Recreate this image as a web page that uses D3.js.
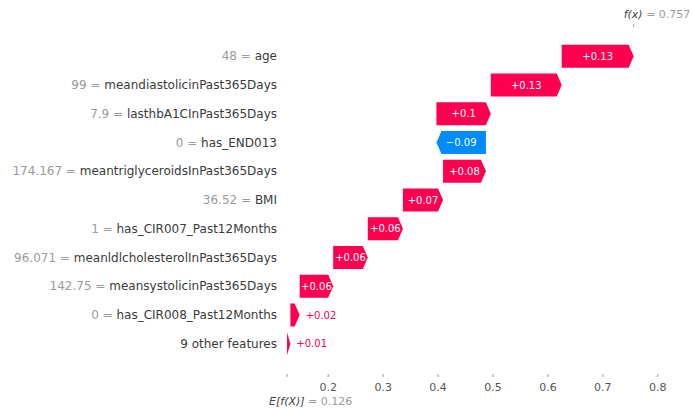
<!DOCTYPE html>
<html>
<head>
<meta charset="utf-8">
<script src="https://cdn.jsdelivr.net/npm/d3@7/dist/d3.min.js"></script>
<style>
  html, body { margin: 0; padding: 0; background: #fff; }
  svg { display: block; font-family: "DejaVu Sans", sans-serif; }
</style>
</head>
<body>
<svg id="chart" width="693" height="412"></svg>
<script>
// ---- data ----
const features = [
  "age",
  "meandiastolicinPast365Days",
  "lasthbA1CInPast365Days",
  "has_END013",
  "meantriglyceroidsInPast365Days",
  "BMI",
  "has_CIR007_Past12Months",
  "meanldlcholesterolInPast365Days",
  "meansystolicinPast365Days",
  "has_CIR008_Past12Months",
  "9 other features"
];
const featureValues = ["48", "99", "7.9", "0", "174.167", "36.52", "1", "96.071", "142.75", "0", ""];
const shapValues = [0.131, 0.129, 0.099, -0.09, 0.078, 0.073, 0.064, 0.063, 0.061, 0.017, 0.006];
const baseValue = 0.126;
const fxValue = 0.757;
const xTicks = [0.2, 0.3, 0.4, 0.5, 0.6, 0.7, 0.8];

// ---- layout ----
const RED = "#ff0051", BLUE = "#008bfb";
const svg = d3.select("#chart");

const x = d3.scaleLinear().domain([0.2, 0.8]).range([327.7, 657.3]);
const y = d3.scaleBand().domain(features).range([39, 361]).padding(0.2);
const step = y.step();

// cumulative positions (bottom row starts at base value)
const rows = features.map((f, i) => ({ name: f, val: featureValues[i], shap: shapValues[i] }));
let cur = baseValue;
for (let i = rows.length - 1; i >= 0; i--) {
  rows[i].start = cur;
  cur += rows[i].shap;
  rows[i].end = cur;
}

const fmt = d3.format("+.2~f");

// bars
const g = svg.append("g");
rows.forEach(r => {
  const x0 = x(r.start), x1 = x(r.end);
  const top = y(r.name), bot = top + y.bandwidth(), cy = top + y.bandwidth() / 2;
  const w = Math.abs(x1 - x0);
  const hl = Math.min(w, 5);
  const dir = r.shap >= 0 ? 1 : -1;
  const pts = [[x0, top], [x1 - dir * hl, top], [x1, cy], [x1 - dir * hl, bot], [x0, bot]];
  const col = r.shap >= 0 ? RED : BLUE;
  g.append("path")
    .attr("d", d3.line()(pts) + "Z")
    .attr("fill", col);

  const t = g.append("text")
    .attr("font-size", 10)
    .attr("y", cy)
    .attr("dy", "0.35em")
    .text(fmt(r.shap));
  const tw = t.node().getComputedTextLength();
  if (tw < w - 1) {
    t.attr("x", (x0 + x1) / 2).attr("text-anchor", "middle").attr("fill", "#fff");
  } else {
    t.attr("x", x1 + dir * 6).attr("text-anchor", dir > 0 ? "start" : "end").attr("fill", col);
  }
});

// y labels
const yl = svg.append("g");
rows.forEach(r => {
  const t = yl.append("text")
    .attr("x", 277)
    .attr("y", y(r.name) + y.bandwidth() / 2)
    .attr("dy", "0.35em")
    .attr("text-anchor", "end")
    .attr("font-size", 12);
  if (r.val !== "") {
    t.append("tspan").attr("fill", "#9a9a9a").text(r.val + " = ");
  }
  t.append("tspan").attr("fill", "#3a3a3a").text(r.name);
});

// bottom axis (no domain line)
const axisG = svg.append("g").attr("transform", "translate(0,374)");
axisG.call(d3.axisBottom(x).tickValues(xTicks).tickSize(3).tickPadding(6).tickFormat(d3.format(".1f")));
axisG.select(".domain").remove();
axisG.selectAll(".tick line").attr("stroke", "#9a9a9a");
axisG.selectAll(".tick text").attr("fill", "#555").attr("font-size", 11).attr("font-family", "DejaVu Sans");

// base value tick + label
svg.append("line").attr("x1", x(baseValue)).attr("x2", x(baseValue)).attr("y1", 374).attr("y2", 377).attr("stroke", "#9a9a9a");
const eT = svg.append("text").attr("x", x(baseValue) - 18).attr("y", 405).attr("font-size", 11);
eT.append("tspan").attr("fill", "#444").attr("font-style", "italic").text("E[f(X)]");
eT.append("tspan").attr("fill", "#9a9a9a").text(" = " + d3.format(".3f")(baseValue));

// f(x) tick + label
svg.append("line").attr("x1", x(fxValue)).attr("x2", x(fxValue)).attr("y1", 24).attr("y2", 27).attr("stroke", "#9a9a9a");
const fT = svg.append("text").attr("x", x(fxValue) - 10).attr("y", 18).attr("font-size", 11);
fT.append("tspan").attr("fill", "#444").attr("font-style", "italic").text("f(x)");
fT.append("tspan").attr("fill", "#9a9a9a").text(" = " + d3.format(".3f")(fxValue));
</script>
</body>
</html>
